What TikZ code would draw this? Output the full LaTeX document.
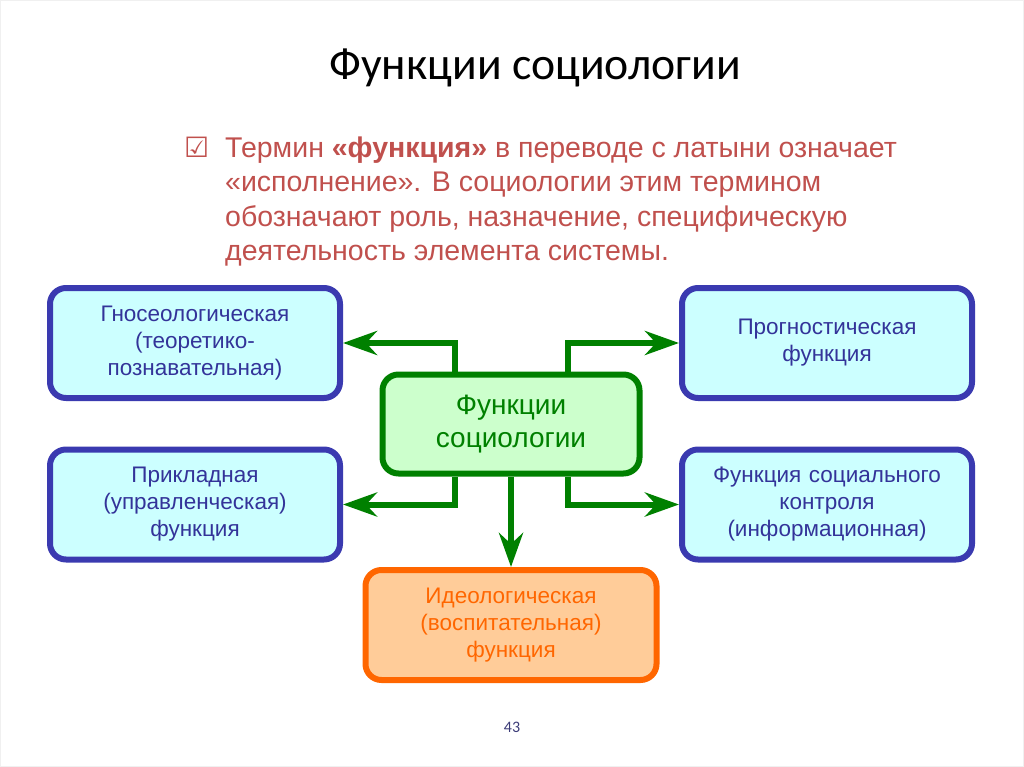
\documentclass[tikz,border=0pt]{standalone}
\usepackage{fontspec}
\setmainfont{Liberation Sans}
\newfontfamily\titlefont{Carlito}
\newfontfamily\symfont{DejaVu Sans}
\usetikzlibrary{arrows.meta,calc}
\definecolor{bluebd}{RGB}{58,58,176}
\definecolor{bluefill}{RGB}{204,255,255}
\definecolor{bluetxt}{RGB}{51,51,153}
\definecolor{grbd}{RGB}{0,128,0}
\definecolor{grfill}{RGB}{204,255,204}
\definecolor{orbd}{RGB}{255,102,0}
\definecolor{orfill}{RGB}{255,204,153}
\definecolor{redtxt}{RGB}{192,80,77}
\definecolor{pgnum}{RGB}{60,60,120}
\tikzset{
  bluebox/.style={draw=bluebd, fill=bluefill, line width=6pt, rounded corners=16pt,
    minimum width=290pt, minimum height=110pt, text width=280pt, align=center,
    text=bluetxt, font=\fontsize{22.5}{27}\selectfont},
  cenbox/.style={draw=grbd, fill=grfill, line width=6pt, rounded corners=16pt,
    minimum width=257pt, minimum height=99pt, text width=245pt, align=center,
    text=grbd, font=\fontsize{28}{33}\selectfont},
  orbox/.style={draw=orbd, fill=orfill, line width=6pt, rounded corners=16pt,
    minimum width=291pt, minimum height=110pt, text width=280pt, align=center,
    text=orbd, font=\fontsize{22.5}{27}\selectfont},
  arr/.style={draw=grbd, line width=6pt,
    -{Stealth[length=34pt, width=24pt, inset=11pt, fill=grbd]}},
  bul/.style={anchor=base west, text=redtxt, font=\fontsize{28.5}{34}\selectfont, inner sep=0pt}
}
\begin{document}
\begin{tikzpicture}[x=1pt,y=-1pt]
\useasboundingbox (0,0) rectangle (1024,767);
\draw[black!6, line width=1pt] (0.5,0.5) rectangle (1023.5,766.5);
\node[anchor=base, inner sep=0pt, font=\titlefont\fontsize{45.7}{50}\selectfont, text=black] (title) at (535,80) {Функции социологии};
\node[anchor=base west, inner sep=0pt, text=redtxt, font=\symfont\bfseries\fontsize{28}{30}\selectfont] (chk) at (184,158) {☑};
\node[bul] (l1) at (225,158) {Термин \textbf{«функция»} в переводе с латыни означает};
\node[bul] (l2) at (225,192) {«исполнение». В социологии этим термином};
\node[bul] (l3) at (225,226) {обозначают роль, назначение, специфическую};
\node[bul] (l4) at (225,260) {деятельность элемента системы.};

\node[bluebox] (A) at (195,343) {Гносеологическая\\(теоретико-\\познавательная)};
\node[bluebox] (B) at (195,504.5) {Прикладная\\(управленческая)\\функция};
\node[bluebox] (C) at (827,343) {Прогностическая\\функция};
\node[bluebox] (D) at (827,504.5) {Функция социального\\контроля\\(информационная)};
\node[cenbox] (cen) at (511,424) {Функции\\социологии};
\node[orbox] (ideo) at (511,625) {Идеологическая\\(воспитательная)\\функция};

\draw[arr] ($(cen.north)+(-56,0)$) |- (A.east);
\draw[arr] ($(cen.north)+(57,0)$) |- (C.west);
\draw[arr] ($(cen.south)+(-56,0)$) |- (B.east);
\draw[arr] ($(cen.south)+(57,0)$) |- (D.west);
\draw[arr] (cen.south) -- (ideo.north);

\node[text=pgnum, font=\titlefont\fontsize{16}{20}\selectfont] (pg) at (512,727) {43};
\end{tikzpicture}
\end{document}
